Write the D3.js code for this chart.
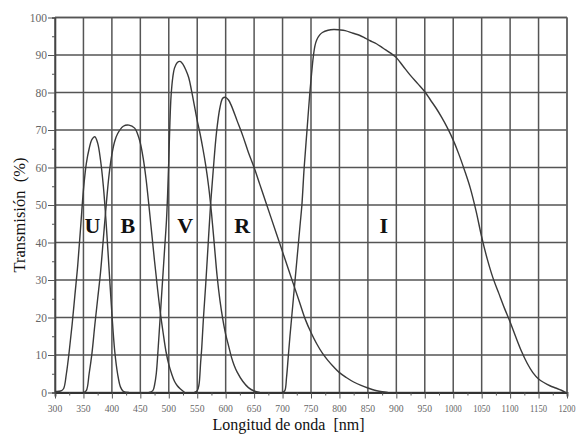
<!DOCTYPE html>
<html>
<head>
<meta charset="utf-8">
<script src="https://cdn.jsdelivr.net/npm/d3@7"></script>
<style>
  body { margin: 0; background: #fff; }
  svg { display: block; }
</style>
</head>
<body>
<script>
// filter transmission curves, wavelength in nm, transmission in %
const uWave  = [300, 310, 315, 320, 325, 330, 335, 340, 345, 350, 355, 360, 365, 370, 375, 380, 385, 390, 395, 400, 405, 410, 415, 420, 430];
const uTrans = [0.3, 0.4, 1, 5, 11, 18, 26, 34, 44, 54, 61, 65, 67.5, 68.2, 66.5, 62, 55, 45, 33, 21, 11, 5, 1.5, 0.3, 0];

const bWave  = [350, 355, 360, 365, 370, 375, 380, 385, 390, 395, 400, 405, 410, 420, 430, 440, 445, 450, 455, 460, 465, 470, 475, 480, 485, 490, 495, 500, 505, 510, 515, 520, 528];
const bTrans = [0, 0.5, 5, 10.5, 18, 25, 32, 41, 50, 58, 63.5, 67, 69, 71, 71.3, 70.5, 69, 66.5, 62.5, 57, 50, 42.5, 35, 28, 21.5, 16, 11, 7.5, 5, 3, 1.8, 1, 0];

const vWave  = [465, 472, 475, 478, 481, 484, 487, 490, 493, 496, 498, 500, 502, 504, 507, 510, 515, 520, 525, 530, 535, 540, 545, 550, 555, 560, 565, 570, 575, 580, 585, 590, 595, 600, 605, 610, 615, 620, 630, 640, 650, 660];
const vTrans = [0, 0.5, 2, 5, 11, 18, 25, 32, 39, 46, 53, 62, 72, 79, 84, 86.5, 88, 88.3, 87.5, 86, 84, 80.5, 76.5, 72.5, 69, 65, 60.5, 55, 48, 39.5, 31, 24.5, 19.5, 15.5, 12.5, 9.5, 7.2, 5.5, 3, 1.3, 0.4, 0];

const rWave  = [545, 550, 553, 556, 558, 561, 565, 569, 573, 578, 584, 590, 595, 600, 605, 610, 620, 630, 640, 650, 660, 670, 680, 690, 700, 710, 720, 730, 740, 750, 760, 770, 780, 790, 800, 812, 825, 838, 850, 862, 875, 885];
const rTrans = [0, 0.5, 2, 8, 12, 20, 29, 39, 49, 59, 69.5, 76, 78.5, 78.7, 78, 76.5, 72.5, 68.5, 64, 60, 55.5, 51, 46.5, 42, 37.5, 33, 28.5, 24, 19.5, 16, 13, 10.5, 8.5, 6.8, 5.3, 4, 2.8, 1.9, 1.2, 0.6, 0.2, 0];

const iWave  = [700, 704, 707, 710, 713, 716, 719, 722, 725, 728, 731, 734, 738, 743, 748, 751, 754, 757, 760, 765, 770, 780, 790, 800, 810, 824, 836, 845, 854, 865, 877, 890, 900, 912, 924, 938, 950, 960, 970, 980, 990, 1000, 1010, 1020, 1030, 1040, 1050, 1060, 1070, 1080, 1090, 1100, 1110, 1120, 1130, 1140, 1150, 1160, 1170, 1180, 1190, 1198];
const iTrans = [0, 0.5, 4, 9.5, 15, 20, 25, 30, 35, 40, 45, 50, 60, 70, 80, 85, 89.5, 92.5, 94, 95.3, 96, 96.6, 96.8, 96.7, 96.5, 95.8, 95.2, 94.5, 93.8, 93, 91.8, 90.5, 89.3, 87, 84.7, 82.3, 80.2, 78, 75.8, 73.3, 70.5, 67.3, 63.5, 59.2, 54.5, 48.5, 41.5, 35.5, 30.5, 26.5, 22.5, 18.8, 14.8, 11, 7.8, 5.3, 3.6, 2.6, 1.8, 1.2, 0.6, 0];

const bandNames = ["U", "B", "V", "R", "I"];
const bandLabelWave = [366, 428, 529, 629, 878];
const bandLabelTrans = 42.6;

const xTicks = d3.range(300, 1201, 50);
const yTicks = d3.range(0, 101, 10);

const margin = {top: 17.5, right: 12, bottom: 48.5, left: 55},
    width = 579 - margin.left - margin.right,
    height = 441 - margin.top - margin.bottom;

const svg = d3.select("body").append("svg")
    .attr("width", 579)
    .attr("height", 441)
    .append("g")
    .attr("transform", "translate(" + margin.left + "," + margin.top + ")");

const x = d3.scaleLinear().domain([300, 1200]).range([0, width]);
const y = d3.scaleLinear().domain([0, 100]).range([height, 0]);

const gridColor = "#555";
const serif = "'Liberation Serif', 'DejaVu Serif', serif";

// grid
svg.append("g")
    .selectAll("line")
    .data(xTicks)
    .enter().append("line")
    .attr("x1", d => x(d)).attr("x2", d => x(d))
    .attr("y1", 0).attr("y2", height)
    .attr("stroke", gridColor).attr("stroke-width", 1.5);

svg.append("g")
    .selectAll("line")
    .data(yTicks)
    .enter().append("line")
    .attr("x1", 0).attr("x2", width)
    .attr("y1", d => y(d)).attr("y2", d => y(d))
    .attr("stroke", gridColor).attr("stroke-width", 1.5);

// axes
const xAxis = svg.append("g")
    .attr("transform", "translate(0," + height + ")")
    .call(d3.axisBottom(x).tickValues(d3.range(300, 1201, 25)).tickSize(4).tickFormat(""));
xAxis.select(".domain").attr("stroke", "#333").attr("stroke-width", 1.8);
xAxis.selectAll(".tick line").attr("stroke", "#555").attr("stroke-width", 1)
    .attr("y2", d => d % 50 === 0 ? 6 : 3);

svg.append("g")
    .selectAll("text")
    .data(xTicks)
    .enter().append("text")
    .attr("x", d => x(d))
    .attr("y", height + 19.5)
    .attr("text-anchor", "middle")
    .style("font-family", serif)
    .style("font-size", "10.5px")
    .style("fill", "#666")
    .attr("textLength", d => d >= 1000 ? 17 : 14.5)
    .attr("lengthAdjust", "spacingAndGlyphs")
    .text(d => d);

const yAxis = svg.append("g")
    .call(d3.axisLeft(y).tickValues(d3.range(0, 101, 5)).tickSize(3).tickFormat(""));
yAxis.select(".domain").attr("stroke", "#444").attr("stroke-width", 1.6);
yAxis.selectAll(".tick line").attr("stroke", "#555").attr("stroke-width", 1)
    .attr("x2", d => d % 10 === 0 ? -7 : -3);

svg.append("g")
    .selectAll("text")
    .data(yTicks)
    .enter().append("text")
    .attr("x", -8)
    .attr("y", d => y(d))
    .attr("dy", "0.35em")
    .attr("text-anchor", "end")
    .style("font-family", serif)
    .style("font-size", "11.5px")
    .style("fill", "#666")
    .text(d => d);

// top and right border
svg.append("line").attr("x1", 0).attr("x2", width).attr("y1", 0).attr("y2", 0)
    .attr("stroke", "#555").attr("stroke-width", 1.6);
svg.append("line").attr("x1", width).attr("x2", width).attr("y1", 0).attr("y2", height)
    .attr("stroke", "#666").attr("stroke-width", 1.5);

// curves
const bands = [
    [uWave, uTrans],
    [bWave, bTrans],
    [vWave, vTrans],
    [rWave, rTrans],
    [iWave, iTrans]
];

const line = d3.line()
    .x(d => x(d[0]))
    .y(d => y(Math.max(0, d[1])))
    .curve(d3.curveCatmullRom.alpha(0.5));

svg.selectAll(".band")
    .data(bands)
    .enter().append("path")
    .attr("class", "band")
    .attr("fill", "none")
    .attr("stroke", "#3a3a3a")
    .attr("stroke-width", 1.4)
    .attr("d", d => line(d3.zip(d[0], d[1])));

// band letters
svg.selectAll(".bandLabel")
    .data(bandNames)
    .enter().append("text")
    .attr("class", "bandLabel")
    .attr("x", (d, i) => x(bandLabelWave[i]))
    .attr("y", y(bandLabelTrans))
    .attr("text-anchor", "middle")
    .style("font-family", serif)
    .style("font-size", "22px")
    .style("font-weight", "bold")
    .style("fill", "#111")
    .text(d => d);

// axis titles
svg.append("text")
    .attr("x", 233.5)
    .attr("y", height + 37)
    .attr("text-anchor", "middle")
    .style("font-family", serif)
    .style("font-size", "16px")
    .style("fill", "#111")
    .text("Longitud de onda\u00a0 [nm]");

svg.append("text")
    .attr("transform", "rotate(-90)")
    .attr("x", -(215 - margin.top))
    .attr("y", -30)
    .attr("text-anchor", "middle")
    .style("font-family", serif)
    .style("font-size", "16.5px")
    .style("fill", "#111")
    .text("Transmisión\u00a0 (%)");
</script>
</body>
</html>
